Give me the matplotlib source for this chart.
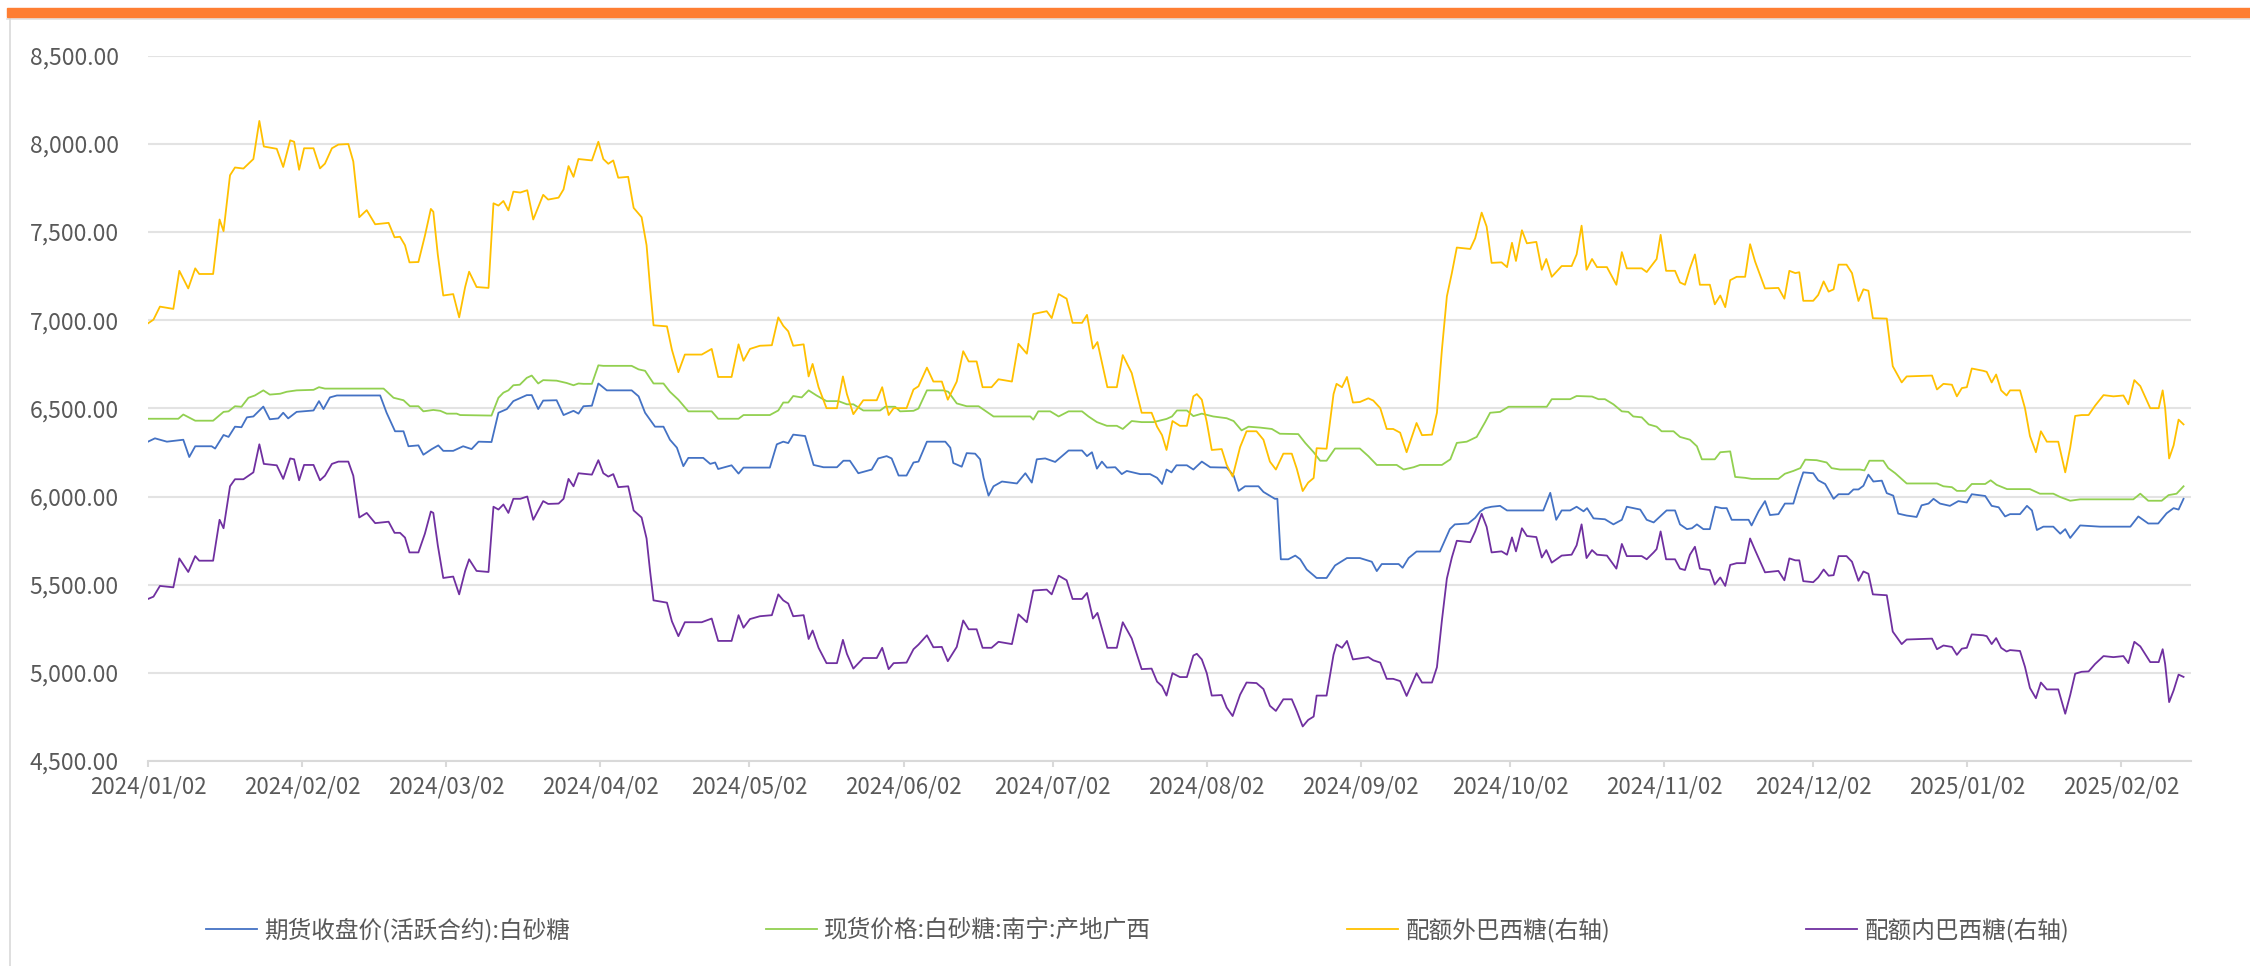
import matplotlib
matplotlib.use('Agg')
import matplotlib.pyplot as plt
import matplotlib.dates as mdates
from matplotlib.patches import Rectangle
from matplotlib.lines import Line2D
from matplotlib.ticker import FuncFormatter
import pandas as pd

plt.rcParams['font.family'] = ['Noto Sans CJK SC', 'DejaVu Sans']

start = pd.Timestamp('2024-01-02')

labels = ['期货收盘价(活跃合约):白砂糖', '现货价格:白砂糖:南宁:产地广西',
          '配额外巴西糖(右轴)', '配额内巴西糖(右轴)']
colors = ['#4472C4', '#92D050', '#FFC000', '#7030A0']

# days counted from 2024-01-02
futures_days = [0, 1.4, 3.8, 7.1, 8.3, 9.5, 12.8, 13.5, 15.2, 16.2, 17.5, 18.8, 19.9, 21.2, 23.2, 24.5, 26.2, 27.2, 28.2, 29.9,
                33.3, 34.4, 35.3, 36.6, 38.0, 46.7, 48.0, 49.7, 51.4, 52.4, 54.4, 55.4, 57.1, 58.4, 59.4, 61.4, 63.4, 65.1, 66.5, 69.1,
                70.5, 72.2, 73.5, 76.2, 77.2, 78.5, 79.5, 82.2, 83.6, 85.6, 86.6, 87.6, 89.3, 90.6, 92.3, 97.3, 98.7, 100.0, 101.0, 102.0,
                103.7, 105.0, 106.4, 107.7, 108.7, 111.7, 113.1, 114.1, 114.7, 117.4, 118.8, 119.8, 125.1, 126.5, 127.8, 128.8, 129.8, 132.2, 133.9, 135.9,
                138.6, 139.9, 141.2, 142.9, 145.6, 146.9, 148.6, 149.6, 151.0, 152.6, 154.0, 155.0, 156.7, 160.4, 161.4, 162.0, 163.7, 164.7, 166.4, 167.4,
                168.1, 169.1, 170.1, 171.8, 174.8, 176.5, 177.8, 178.8, 180.5, 182.5, 185.2, 187.9, 188.9, 189.9, 190.9, 191.9, 192.9, 194.6, 195.9, 196.9,
                199.6, 201.6, 203.0, 204.0, 204.9, 205.9, 206.9, 209.0, 210.3, 212.0, 213.7, 217.0, 218.4, 219.4, 220.7, 223.4, 224.4, 226.7, 227.2, 227.9,
                229.4, 230.8, 231.8, 233.1, 235.1, 237.1, 238.8, 241.2, 243.8, 246.2, 247.2, 248.2, 251.6, 252.4, 253.6, 255.2, 259.9, 261.9, 262.9, 265.6,
                267.0, 268.0, 269.0, 270.3, 272.0, 273.4, 280.7, 282.1, 283.3, 284.4, 286.1, 287.4, 288.8, 289.5, 290.8, 293.1, 294.8, 296.5, 297.5, 300.2,
                301.5, 302.9, 304.2, 305.5, 307.2, 308.2, 309.6, 310.6, 311.6, 312.9, 314.2, 315.3, 316.6, 317.6, 318.6, 322.0, 322.6, 324.0, 325.3, 326.3,
                328.0, 329.3, 331.0, 332.0, 333.0, 335.0, 336.0, 337.4, 339.1, 340.1, 342.1, 343.1, 344.1, 345.1, 346.1, 347.1, 348.8, 349.8, 351.1, 352.1,
                353.8, 355.8, 356.8, 358.2, 359.2, 360.5, 362.5, 364.2, 365.9, 366.9, 369.6, 370.9, 372.3, 373.6, 374.6, 376.6, 378.0, 379.0, 380.0, 381.3,
                383.3, 384.7, 385.7, 386.7, 388.7, 392.7, 398.8, 400.4, 402.4, 404.4, 406.1, 407.5, 408.5, 409.5]
futures_vals = [6311, 6330, 6311, 6322, 6224, 6285, 6285, 6272, 6349, 6338, 6396, 6393, 6449, 6454, 6510, 6438, 6443, 6475, 6443, 6480,
                6488, 6541, 6496, 6562, 6573, 6573, 6475, 6370, 6370, 6285, 6290, 6237, 6269, 6290, 6259, 6259, 6285, 6269, 6311, 6309,
                6475, 6496, 6541, 6575, 6575, 6496, 6544, 6546, 6462, 6486, 6470, 6512, 6515, 6641, 6602, 6602, 6568, 6475, 6435, 6396,
                6396, 6322, 6277, 6172, 6219, 6219, 6185, 6193, 6156, 6177, 6130, 6164, 6164, 6296, 6311, 6303, 6351, 6343, 6179, 6166,
                6166, 6203, 6203, 6132, 6153, 6216, 6229, 6216, 6119, 6119, 6193, 6198, 6311, 6311, 6277, 6190, 6169, 6246, 6243, 6211,
                6106, 6005, 6058, 6085, 6074, 6132, 6079, 6211, 6216, 6196, 6261, 6261, 6229, 6251, 6158, 6198, 6164, 6166, 6127, 6145,
                6127, 6127, 6106, 6071, 6153, 6137, 6177, 6177, 6153, 6198, 6166, 6164, 6119, 6032, 6058, 6058, 6026, 5987, 5987, 5644,
                5644, 5665, 5644, 5586, 5538, 5538, 5609, 5651, 5651, 5630, 5577, 5617, 5617, 5596, 5651, 5688, 5688, 5815, 5842, 5847,
                5879, 5915, 5934, 5942, 5947, 5921, 5921, 6021, 5868, 5921, 5921, 5942, 5916, 5934, 5876, 5871, 5842, 5868, 5942, 5926,
                5868, 5853, 5887, 5921, 5921, 5842, 5815, 5820, 5842, 5815, 5815, 5942, 5934, 5934, 5868, 5868, 5836, 5916, 5974, 5895,
                5900, 5960, 5960, 6053, 6137, 6132, 6092, 6071, 5987, 6013, 6013, 6040, 6040, 6061, 6124, 6085, 6090, 6019, 6005, 5903,
                5892, 5884, 5950, 5960, 5987, 5960, 5947, 5974, 5966, 6013, 6003, 5947, 5939, 5887, 5900, 5900, 5947, 5921, 5810, 5829,
                5829, 5789, 5815, 5765, 5836, 5829, 5829, 5887, 5847, 5847, 5905, 5934, 5926, 5987]

spot_days = [0, 6.1, 7.1, 9.5, 13.1, 15.2, 16.2, 17.5, 18.8, 20.2, 21.5, 23.2, 24.5, 26.6, 27.9, 29.9, 33.3, 34.4, 35.6, 47.4,
             49.4, 51.4, 52.7, 54.4, 55.4, 57.4, 58.8, 60.1, 62.1, 62.8, 69.1, 70.5, 71.5, 72.5, 73.5, 74.8, 76.2, 77.2, 78.5, 79.5,
             82.2, 84.2, 85.6, 86.6, 87.6, 89.3, 90.6, 91.6, 97.3, 98.7, 100.0, 101.7, 103.7, 105.0, 106.7, 108.7, 113.4, 114.7, 118.8, 119.8,
             125.1, 126.8, 127.8, 128.8, 129.8, 131.5, 132.9, 134.5, 136.5, 138.9, 140.6, 141.9, 143.9, 147.3, 148.3, 150.3, 151.3, 154.0, 155.0, 156.7,
             160.0, 161.0, 162.7, 164.7, 167.1, 170.1, 177.5, 178.1, 179.1, 181.5, 183.2, 185.2, 187.9, 189.2, 190.9, 192.9, 194.9, 196.1, 197.9, 199.9,
             202.3, 204.9, 206.0, 207.0, 209.0, 210.3, 212.0, 214.3, 217.0, 218.4, 220.0, 221.4, 223.7, 226.1, 227.7, 231.4, 232.8, 234.5, 235.8, 237.1,
             238.8, 243.8, 245.5, 247.2, 251.2, 252.6, 254.6, 255.9, 260.3, 262.0, 263.3, 265.3, 267.3, 269.0, 270.0, 272.0, 273.7, 281.4, 282.4, 286.1,
             287.4, 290.5, 291.8, 293.1, 294.8, 296.5, 297.8, 298.8, 300.5, 301.9, 303.5, 304.5, 306.9, 308.2, 310.2, 311.6, 312.6, 315.2, 316.3, 318.3,
             319.3, 321.3, 322.6, 328.0, 329.3, 331.0, 332.4, 333.4, 335.7, 337.7, 338.7, 340.4, 344.4, 345.3, 346.3, 349.1, 350.1, 351.5, 353.8, 359.9,
             361.2, 362.9, 363.9, 365.6, 366.9, 369.6, 370.7, 371.9, 373.3, 374.0, 378.6, 380.6, 383.3, 384.7, 386.7, 388.7, 399.4, 400.8, 402.4, 405.1,
             406.5, 408.1, 409.5]
spot_vals = [6441, 6441, 6465, 6430, 6430, 6480, 6483, 6512, 6509, 6560, 6573, 6602, 6578, 6583, 6594, 6602, 6605, 6620, 6612, 6612,
             6560, 6546, 6512, 6512, 6483, 6491, 6486, 6470, 6470, 6462, 6459, 6560, 6589, 6602, 6631, 6634, 6673, 6686, 6641, 6660,
             6657, 6644, 6631, 6641, 6639, 6639, 6744, 6741, 6741, 6721, 6713, 6641, 6641, 6594, 6549, 6483, 6483, 6441, 6441, 6462,
             6462, 6488, 6533, 6533, 6570, 6562, 6602, 6573, 6541, 6541, 6523, 6523, 6488, 6488, 6509, 6509, 6483, 6486, 6499, 6602,
             6602, 6594, 6528, 6512, 6512, 6454, 6454, 6436, 6483, 6483, 6454, 6483, 6483, 6454, 6422, 6401, 6401, 6383, 6428, 6422,
             6422, 6440, 6454, 6488, 6488, 6456, 6470, 6454, 6444, 6428, 6375, 6396, 6391, 6383, 6356, 6354, 6304, 6251, 6203, 6203,
             6272, 6272, 6229, 6179, 6179, 6153, 6166, 6179, 6179, 6211, 6304, 6311, 6338, 6422, 6475, 6480, 6509, 6509, 6552, 6552,
             6570, 6567, 6552, 6552, 6523, 6483, 6480, 6454, 6449, 6409, 6396, 6370, 6370, 6338, 6322, 6285, 6211, 6211, 6251, 6256,
             6111, 6106, 6100, 6100, 6129, 6145, 6161, 6209, 6206, 6193, 6161, 6153, 6153, 6148, 6203, 6203, 6161, 6132, 6074, 6074,
             6058, 6053, 6032, 6032, 6071, 6071, 6092, 6066, 6050, 6042, 6042, 6016, 6016, 5997, 5976, 5984, 5984, 6016, 5976, 5976,
             6008, 6016, 6058]

outquota_days = [0, 1.1, 2.4, 5.1, 6.3, 8.1, 9.5, 10.3, 13.1, 14.4, 15.2, 16.5, 17.5, 19.2, 21.2, 22.4, 23.3, 25.9, 27.2, 28.6,
                 29.4, 30.4, 31.4, 33.3, 34.6, 35.6, 37.0, 38.3, 40.3, 41.3, 42.5, 44.0, 45.7, 48.4, 49.6, 50.7, 51.7, 52.6, 54.4, 55.7,
                 56.9, 57.4, 58.3, 59.4, 61.4, 62.6, 63.8, 64.6, 66.1, 68.5, 69.5, 70.5, 71.5, 72.5, 73.5, 74.9, 76.3, 77.5, 79.5, 80.5,
                 82.6, 83.6, 84.6, 85.6, 86.6, 89.3, 90.6, 91.6, 92.6, 93.6, 94.6, 96.6, 97.7, 99.3, 100.3, 101.0, 101.7, 104.4, 105.4, 106.7,
                 108.0, 111.4, 113.4, 114.7, 117.4, 118.8, 119.8, 121.1, 123.1, 125.5, 126.8, 127.8, 128.8, 129.8, 131.9, 132.9, 133.7, 134.9, 136.5, 138.6,
                 139.8, 140.6, 141.9, 143.9, 146.6, 147.7, 149.0, 150.0, 152.6, 154.0, 155.0, 156.7, 158.0, 159.7, 160.9, 162.7, 164.0, 165.1, 166.7, 167.9,
                 169.7, 171.1, 173.8, 175.1, 176.8, 178.1, 180.8, 181.8, 183.2, 184.8, 186.0, 187.9, 188.9, 190.1, 191.0, 193.0, 194.9, 196.1, 197.9, 199.9,
                 201.9, 203.0, 204.0, 204.9, 206.1, 207.6, 209.0, 210.3, 211.0, 212.0, 213.0, 214.0, 216.0, 217.0, 218.2, 219.7, 221.0, 223.0, 224.4, 225.7,
                 226.9, 228.4, 230.1, 231.1, 232.3, 233.4, 234.5, 235.1, 237.1, 238.5, 239.1, 240.2, 241.2, 242.4, 243.8, 245.5, 246.5, 247.9, 249.2, 250.5,
                 251.9, 253.2, 255.2, 256.3, 258.3, 259.3, 260.3, 261.3, 262.3, 263.3, 266.0, 267.0, 268.3, 269.3, 270.3, 272.3, 273.4, 274.4, 275.2, 276.4,
                 277.4, 279.3, 280.4, 281.3, 282.4, 284.4, 286.4, 287.4, 288.4, 289.4, 290.5, 291.5, 293.5, 295.4, 296.5, 297.5, 300.5, 301.5, 302.9, 303.5,
                 304.3, 305.4, 307.2, 308.2, 309.2, 310.2, 311.2, 312.2, 314.2, 315.2, 316.3, 317.3, 318.3, 319.6, 321.3, 322.3, 323.3, 325.3, 328.0, 329.2,
                 330.2, 331.4, 332.2, 333.0, 335.0, 336.0, 337.1, 338.1, 339.1, 340.1, 341.7, 342.8, 344.1, 345.1, 346.1, 347.0, 349.8, 351.0, 352.8, 353.8,
                 358.9, 359.9, 361.2, 362.9, 363.9, 364.9, 365.9, 366.9, 369.2, 369.9, 370.9, 371.8, 372.8, 373.9, 374.6, 376.6, 377.6, 378.6, 379.8, 380.8,
                 382.0, 384.3, 385.7, 386.7, 387.7, 389.0, 390.4, 391.7, 393.4, 395.4, 397.4, 398.4, 399.6, 400.8, 402.8, 404.5, 405.3, 405.8, 406.6, 407.5,
                 408.5, 409.5]
outquota_vals = [6982, 7003, 7077, 7064, 7280, 7180, 7294, 7262, 7262, 7571, 7505, 7822, 7866, 7860, 7914, 8130, 7985, 7972, 7869, 8020,
                 8012, 7853, 7975, 7975, 7861, 7888, 7975, 7996, 7999, 7900, 7584, 7624, 7544, 7552, 7470, 7473, 7425, 7328, 7330, 7478,
                 7631, 7615, 7372, 7140, 7148, 7016, 7188, 7275, 7188, 7183, 7663, 7650, 7676, 7623, 7729, 7724, 7737, 7571, 7711, 7684,
                 7695, 7742, 7874, 7813, 7914, 7906, 8012, 7914, 7887, 7906, 7808, 7813, 7637, 7584, 7425, 7188, 6971, 6965, 6832, 6705,
                 6805, 6805, 6837, 6678, 6678, 6863, 6770, 6837, 6855, 6858, 7016, 6968, 6937, 6855, 6863, 6681, 6752, 6620, 6501, 6501,
                 6681, 6581, 6467, 6546, 6546, 6620, 6462, 6501, 6501, 6607, 6625, 6731, 6652, 6652, 6549, 6652, 6824, 6766, 6766, 6620,
                 6620, 6665, 6652, 6866, 6810, 7035, 7051, 7012, 7148, 7122, 6985, 6985, 7030, 6839, 6876, 6620, 6620, 6802, 6700, 6475,
                 6475, 6396, 6348, 6264, 6428, 6401, 6401, 6568, 6581, 6549, 6422, 6264, 6269, 6179, 6113, 6280, 6370, 6370, 6322, 6198,
                 6153, 6243, 6243, 6158, 6031, 6079, 6105, 6274, 6271, 6581, 6639, 6620, 6678, 6533, 6536, 6557, 6544, 6501, 6383, 6383,
                 6362, 6251, 6417, 6348, 6351, 6475, 6832, 7135, 7267, 7412, 7404, 7465, 7610, 7531, 7325, 7328, 7301, 7439, 7336, 7510,
                 7436, 7444, 7286, 7347, 7246, 7307, 7307, 7373, 7536, 7286, 7347, 7301, 7301, 7201, 7386, 7294, 7294, 7273, 7325, 7347,
                 7484, 7280, 7280, 7214, 7201, 7294, 7373, 7201, 7201, 7090, 7140, 7074, 7227, 7246, 7246, 7431, 7333, 7180, 7183, 7122,
                 7280, 7267, 7272, 7110, 7110, 7143, 7220, 7162, 7175, 7315, 7315, 7267, 7109, 7175, 7167, 7011, 7009, 6739, 6647, 6681,
                 6686, 6607, 6639, 6634, 6568, 6615, 6620, 6726, 6713, 6707, 6647, 6692, 6602, 6573, 6602, 6602, 6501, 6343, 6251, 6370,
                 6311, 6311, 6137, 6277, 6457, 6462, 6462, 6515, 6575, 6568, 6573, 6523, 6660, 6626, 6501, 6501, 6602, 6501, 6216, 6290,
                 6436, 6409]

inquota_days = outquota_days
inquota_vals = [5419, 5432, 5493, 5485, 5649, 5572, 5662, 5636, 5636, 5868, 5820, 6058, 6098, 6098, 6137, 6296, 6185, 6177, 6100, 6216,
                6211, 6092, 6179, 6179, 6092, 6118, 6185, 6198, 6198, 6118, 5881, 5907, 5849, 5857, 5794, 5794, 5767, 5683, 5683, 5789,
                5915, 5907, 5723, 5538, 5546, 5445, 5578, 5644, 5578, 5572, 5942, 5926, 5955, 5907, 5987, 5987, 6000, 5868, 5974, 5958,
                5960, 5987, 6100, 6058, 6132, 6124, 6206, 6132, 6113, 6127, 6053, 6058, 5921, 5881, 5762, 5578, 5411, 5398, 5292, 5208,
                5287, 5287, 5308, 5181, 5181, 5327, 5256, 5305, 5321, 5327, 5445, 5411, 5393, 5321, 5327, 5192, 5240, 5142, 5055, 5055,
                5187, 5108, 5024, 5084, 5084, 5142, 5021, 5055, 5058, 5134, 5160, 5213, 5145, 5147, 5066, 5147, 5297, 5247, 5247, 5142,
                5142, 5176, 5163, 5332, 5287, 5467, 5472, 5445, 5551, 5525, 5419, 5419, 5453, 5308, 5340, 5142, 5142, 5287, 5195, 5021,
                5024, 4950, 4924, 4871, 4998, 4976, 4976, 5098, 5108, 5076, 4998, 4871, 4874, 4803, 4755, 4876, 4945, 4942, 4908, 4813,
                4784, 4850, 4850, 4784, 4696, 4733, 4752, 4871, 4871, 5103, 5161, 5142, 5181, 5076, 5082, 5089, 5071, 5058, 4966, 4966,
                4953, 4869, 4998, 4945, 4945, 5032, 5297, 5535, 5654, 5749, 5741, 5802, 5902, 5828, 5683, 5689, 5670, 5768, 5689, 5820,
                5776, 5770, 5654, 5696, 5625, 5665, 5670, 5723, 5842, 5651, 5696, 5670, 5665, 5591, 5731, 5662, 5662, 5644, 5683, 5702,
                5802, 5644, 5644, 5591, 5583, 5670, 5715, 5591, 5583, 5501, 5541, 5493, 5612, 5622, 5622, 5762, 5696, 5570, 5578, 5525,
                5649, 5638, 5638, 5520, 5514, 5541, 5586, 5551, 5554, 5662, 5662, 5630, 5522, 5575, 5562, 5445, 5440, 5234, 5163, 5189,
                5194, 5134, 5155, 5147, 5102, 5137, 5142, 5218, 5213, 5208, 5163, 5197, 5142, 5121, 5129, 5124, 5034, 4914, 4856, 4945,
                4906, 4906, 4768, 4874, 4995, 5006, 5008, 5050, 5095, 5089, 5095, 5055, 5176, 5150, 5061, 5061, 5134, 5050, 4834, 4900,
                4990, 4977]

month_ticks = pd.date_range('2024-01-01', '2025-02-01', freq='MS') + pd.Timedelta(days=1)
y_ticks = [4500, 5000, 5500, 6000, 6500, 7000, 7500, 8000, 8500]


def to_dates(days):
    return start + pd.to_timedelta(days, unit='D')


W, H = 2250, 966
fig = plt.figure(figsize=(W / 100, H / 100), dpi=100)
ax = fig.add_axes([148 / W, 1 - 761 / H, (2191 - 148) / W, (761 - 55.7) / H])

series = [(futures_days, futures_vals), (spot_days, spot_vals),
          (outquota_days, outquota_vals), (inquota_days, inquota_vals)]
handles = []
for (d, v), c, lab in zip(series, colors, labels):
    ln, = ax.plot(to_dates(d), v, color=c, lw=1.3, label=lab, zorder=3)
    handles.append(ln)

ax.set_ylim(4500, 8500)
ax.set_yticks(y_ticks)
ax.yaxis.set_major_formatter(FuncFormatter(lambda v, p: '{:,.2f}'.format(v)))
ax.set_xlim(start, start + pd.Timedelta(days=411))
ax.set_xticks(month_ticks)
ax.xaxis.set_major_formatter(mdates.DateFormatter('%Y/%m/%d'))

ax.grid(axis='y', color='#e3e3e3', lw=1.5, zorder=0)
for s in ['top', 'right', 'left']:
    ax.spines[s].set_visible(False)
ax.spines['bottom'].set_color('#d9d9d9')
ax.spines['bottom'].set_linewidth(1.5)
ax.tick_params(axis='y', length=0, pad=21, labelsize=16.5, labelcolor='#595959')
ax.tick_params(axis='x', length=4.3, width=1.5, color='#d9d9d9', pad=6,
               labelsize=16, labelcolor='#595959')

fig.legend(handles=handles, labels=labels, loc='center', bbox_to_anchor=(0.5056, 1 - 930 / H),
           ncol=4, frameon=False, fontsize=17, handlelength=2.16, handletextpad=0.3,
           columnspacing=8.3, labelcolor='#595959')

# orange band and frame lines
fig.patches.append(Rectangle((7 / W, 1 - 17.3 / H), 1, 9 / H, transform=fig.transFigure,
                             color='#FE7E33', zorder=5))
fig.lines.append(Line2D([7 / W, 1], [1 - 18.8 / H, 1 - 18.8 / H], transform=fig.transFigure,
                        color='#e0e0e0', lw=1.2))
fig.lines.append(Line2D([9.6 / W, 9.6 / W], [0, 1 - 18.5 / H], transform=fig.transFigure,
                        color='#d9d9d9', lw=1.2))

fig.savefig('out.png', dpi=100)
